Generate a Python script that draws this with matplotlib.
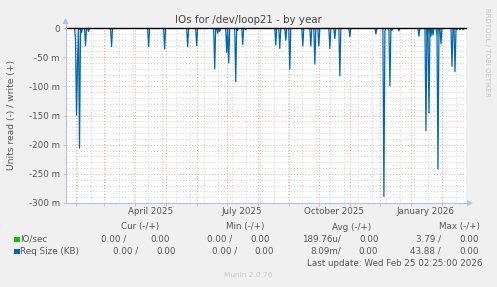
import numpy as np
import pandas as pd
import matplotlib
matplotlib.use("Agg")
import matplotlib.pyplot as plt
import matplotlib.dates as mdates
from matplotlib.ticker import FixedLocator, FuncFormatter

W, H = 497, 287
start = pd.Timestamp("2025-01-21 02:25")
end = pd.Timestamp("2026-02-25 02:25")

# days (from start) where read values are not zero, values in milli
req_days = [10, 11, 12, 14, 16, 20, 23, 46, 83, 99, 122, 131, 149, 152, 154, 161, 163,
            170, 172, 177, 180, 210, 214, 220, 224, 237, 245, 249, 253, 264, 269, 274,
            284, 310, 318, 319, 324, 326, 333, 353, 360, 363, 365, 367, 372, 375, 386,
            389, 391, 394, 397]
req_vals = [20, 149, 60, 206, 8, 30, 6, 32, 32, 36, 32, 30, 70, 9, 6, 42, 60,
            92, 4, 28, 3, 29, 35, 21, 71, 31, 31, 62, 31, 35, 18, 82,
            15, 10, 289, 5, 99, 4, 5, 14, 176, 146, 14, 12, 242, 27, 66,
            75, 3, 3, 3]
io_days = [14, 210, 237, 249, 253, 361, 362, 365, 371]
io_vals = [2, 3, 2, 2, 2, 12, 9, 5, 11]

y_ticks = [0, -50, -100, -150, -200, -250, -300]
month_labels = ["April 2025", "July 2025", "October 2025", "January 2026"]
month_label_dates = ["2025-04-16", "2025-07-16", "2025-10-16", "2026-01-16"]

legend_head = ["Cur (-/+)", "Min (-/+)", "Avg (-/+)", "Max (-/+)"]
legend_names = ["IO/sec", "Req Size (KB)"]
legend_colors = ["#00CC00", "#0066B3"]
cur = [("0.00 /", "0.00"), ("0.00 /", "0.00")]
mins = [("0.00 /", "0.00"), ("0.00 /", "0.00")]
avgs = [("189.76u/", "0.00"), ("8.09m/", "0.00")]
maxs = [("3.79 /", "0.00"), ("43.88 /", "0.00")]

days = pd.date_range(start, end, freq="D")
req = np.zeros(len(days))
req[req_days] = -np.array(req_vals) / 1000.0
io = np.zeros(len(days))
io[io_days] = -np.array(io_vals) / 1000.0

plt.rcParams['font.family'] = ['DejaVu Sans']
txt = '#555555'

fig = plt.figure(figsize=(W / 100, H / 100), dpi=100, facecolor='#F0F0F0')
L, R, T, B = 65.5, 466, 28, 203
ax = fig.add_axes([L / W, 1 - B / H, (R - L) / W, (B - T) / H])
ax.set_facecolor('white')

ax.plot(days, io, color=legend_colors[0], lw=0.9, zorder=3)
ax.plot(days, req, color=legend_colors[1], lw=0.9, zorder=4)
ax.axhline(0, color='black', lw=1.0, zorder=5, clip_on=False)

ax.set_xlim(start, end)
ax.set_ylim(-0.3, 0)

# grids
months = pd.date_range("2025-02-01", "2026-02-01", freq="MS")
fortnights = pd.date_range("2025-01-19", end, freq="14D")
for d in fortnights:
    ax.axvline(d, color='#d4d4d4', lw=0.7, ls=(0, (1, 2)), zorder=1)
for d in months:
    ax.axvline(d, color='#e8a8a8', lw=0.7, ls=(0, (1, 2)), zorder=1.5)
for v in np.arange(-300, 0, 10):
    if v % 50:
        ax.axhline(v / 1000, color='#d4d4d4', lw=0.7, ls=(0, (1, 2)), zorder=1)
for v in y_ticks[1:-1]:
    ax.axhline(v / 1000, color='#e8a8a8', lw=0.7, ls=(0, (1, 2)), zorder=1.5)

for s in ax.spines.values():
    s.set_visible(False)
ax.yaxis.set_major_locator(FixedLocator([v / 1000 for v in y_ticks]))
ax.yaxis.set_major_formatter(FuncFormatter(lambda v, p: "0" if abs(v) < 1e-9 else "%d m" % round(v * 1000)))
ax.tick_params(axis='y', length=2, width=0.6, color='#e8a8a8', labelsize=6.3, labelcolor=txt, pad=2)
ax.set_xticks([mdates.date2num(pd.Timestamp(d)) for d in month_label_dates])
ax.set_xticklabels(month_labels)
ax.tick_params(axis='x', length=0, labelsize=6.3, labelcolor=txt, pad=3)
ax.set_xticks(mdates.date2num(months), minor=True)
ax.tick_params(axis='x', which='minor', length=2, width=0.6, color='#e8a8a8', direction='out')

# axis lines with arrows
axc = '#b8bcf0'
fig.add_artist(plt.Line2D([L / W, L / W], [1 - B / H, 1 - 20 / H], color=axc, lw=0.8))
fig.add_artist(plt.Line2D([L / W, 470 / W], [1 - B / H, 1 - B / H], color=axc, lw=0.8))
fig.add_artist(plt.Polygon([[(L - 3) / W, 1 - 24 / H], [(L + 3) / W, 1 - 24 / H], [L / W, 1 - 18 / H]],
                           closed=True, color=axc, lw=0))
fig.add_artist(plt.Polygon([[467 / W, 1 - (B - 3) / H], [467 / W, 1 - (B + 3) / H], [473 / W, 1 - B / H]],
                           closed=True, color=axc, lw=0))


def ft(x, y, s, **kw):
    kw.setdefault('fontsize', 6.3)
    kw.setdefault('color', txt)
    kw.setdefault('va', 'center')
    fig.text(x / W, 1 - y / H, s, **kw)


ft(248, 20, "IOs for /dev/loop21 - by year", fontsize=7.4, ha='center', color='#444444')
ft(12, 115, "Units read (-) / write (+)", rotation=90, ha='center', fontsize=6.6)
ft(487, 52, "RRDTOOL / TOBI OETIKER", rotation=270, ha='center', fontsize=5.0, color='#c4c4c4')

head_right = [159, 265, 371, 480]
for h, xr in zip(legend_head, head_right):
    ft(xr, 227, h, ha='right')

rows_y = [239.5, 251.5]
cols = [(cur, [(126, 170), (138, 176)]),
        (mins, [(232, 270), (237, 274)]),
        (avgs, [(341, 379), (341, 378)]),
        (maxs, [(441, 479), (441, 479)])]
for i, (name, col) in enumerate(zip(legend_names, legend_colors)):
    y = rows_y[i]
    fig.add_artist(plt.Rectangle((14 / W, 1 - (y + 2.7) / H), 5.5 / W, 5.5 / H, color=col, lw=0))
    ft(20.5, y, name, ha='left')
    for vals, xs in cols:
        a, b = vals[i]
        ft(xs[i][0], y, a, ha='right')
        ft(xs[i][1], y, b, ha='right')

ft(482, 263.5, "Last update: Wed Feb 25 02:25:00 2026", ha='right')
ft(248, 275, "Munin 2.0.76", ha='center', fontsize=5.3, color='#c8c8c8')

fig.savefig("out.png", dpi=100, facecolor=fig.get_facecolor())
